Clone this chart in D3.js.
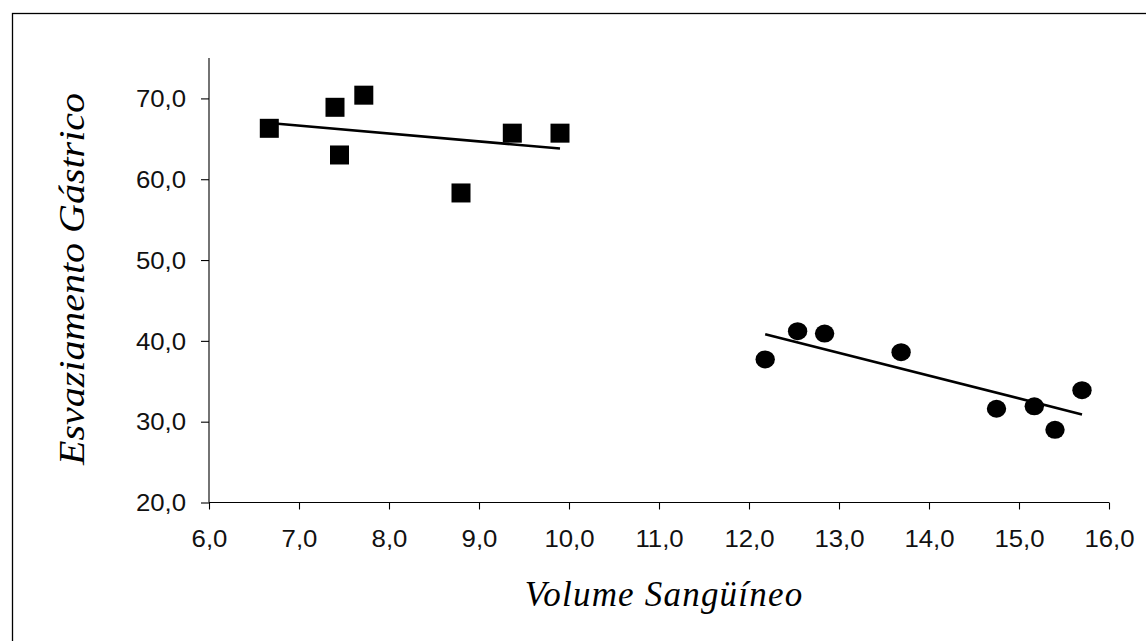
<!DOCTYPE html>
<html>
<head>
<meta charset="utf-8">
<script src="https://cdn.jsdelivr.net/npm/d3@7"></script>
<style>
  html, body { margin: 0; padding: 0; background: #fff; }
  svg { display: block; }
</style>
</head>
<body>
<svg id="chart" width="1146" height="641"></svg>
<script>
// ---- data ----
const squareX = [6.67, 7.40, 7.72, 7.45, 8.80, 9.37, 9.90];
const squareY = [66.3, 68.9, 70.4, 63.0, 58.3, 65.7, 65.7];
const circleX = [12.18, 12.54, 12.84, 13.69, 14.75, 15.17, 15.40, 15.70];
const circleY = [37.7, 41.2, 40.9, 38.6, 31.6, 31.9, 29.0, 33.9];
const xTicks = [6, 7, 8, 9, 10, 11, 12, 13, 14, 15, 16];
const yTicks = [20, 30, 40, 50, 60, 70];
const xTitle = "Volume Sangüíneo";
const yTitle = "Esvaziamento Gástrico";

// ---- layout ----
const svg = d3.select("#chart");
const pL = 209, pR = 1109, pT = 58, pB = 502.5;
const x = d3.scaleLinear().domain([6, 16]).range([pL, pR]);
const y = d3.scaleLinear().domain([20, 75]).range([pB, pT]);
const fmt = v => d3.format(".1f")(v).replace(".", ",");

// outer frame
svg.append("rect").attr("x", 12.5).attr("y", 13.5).attr("width", 1200).attr("height", 700)
  .attr("fill", "none").attr("stroke", "#000").attr("stroke-width", 1.3);

// axes
const xAxis = svg.append("g").attr("transform", `translate(0,${pB})`)
  .call(d3.axisBottom(x).tickValues(xTicks).tickSize(7).tickFormat(fmt));
const yAxis = svg.append("g").attr("transform", `translate(${pL},0)`)
  .call(d3.axisLeft(y).tickValues(yTicks).tickSize(8).tickFormat(fmt));
[xAxis, yAxis].forEach(g => {
  g.select(".domain").attr("stroke", "#000").attr("stroke-width", 1.1);
  g.selectAll(".tick line").attr("stroke", "#000").attr("stroke-width", 1.1);
  g.selectAll(".tick text").attr("fill", "#111")
    .style("font-family", "'Liberation Sans', Arial, sans-serif").style("font-size", "23px");
});
yAxis.select(".domain").attr("d", `M0,${pT}V${pB}`);
xAxis.select(".domain").attr("d", `M${pL},0H${pR}`);
xAxis.selectAll(".tick text").attr("dy", null).attr("y", 44);
yAxis.selectAll(".tick text").attr("x", -23).attr("dy", "0.36em");
[xAxis, yAxis].forEach(g => g.selectAll(".tick text").each(function() {
  const w = this.getComputedTextLength();
  d3.select(this).attr("textLength", w * 1.12).attr("lengthAdjust", "spacingAndGlyphs");
}));

// trend lines (least squares from the data)
function fit(xs, ys) {
  const mx = d3.mean(xs), my = d3.mean(ys);
  const b = d3.sum(xs, (v, i) => (v - mx) * (ys[i] - my)) / d3.sum(xs, v => (v - mx) ** 2);
  const a = my - b * mx;
  const x0 = d3.min(xs), x1 = d3.max(xs);
  return [[x0, a + b * x0], [x1, a + b * x1]];
}
const line = d3.line().x(d => x(d[0])).y(d => y(d[1]));
[[squareX, squareY], [circleX, circleY]].forEach(([xs, ys]) => {
  svg.append("path").attr("d", line(fit(xs, ys)))
    .attr("fill", "none").attr("stroke", "#000").attr("stroke-width", 2.6);
});

// markers
const sq = 19;
svg.append("g").selectAll("rect").data(squareX.map((v, i) => [v, squareY[i]])).join("rect")
  .attr("x", d => x(d[0]) - sq / 2).attr("y", d => y(d[1]) - sq / 2)
  .attr("width", sq).attr("height", sq).attr("fill", "#000");
svg.append("g").selectAll("ellipse").data(circleX.map((v, i) => [v, circleY[i]])).join("ellipse")
  .attr("cx", d => x(d[0])).attr("cy", d => y(d[1]))
  .attr("rx", 9.7).attr("ry", 9).attr("fill", "#000");

// titles
svg.append("text").attr("x", 664).attr("y", 606).attr("text-anchor", "middle")
  .style("font-family", "'Liberation Serif', 'Times New Roman', serif")
  .style("font-style", "italic").style("font-size", "35px").style("letter-spacing", "1.2px")
  .attr("fill", "#000").text(xTitle);
svg.append("text").attr("transform", "translate(84,279) rotate(-90)").attr("text-anchor", "middle")
  .style("font-family", "'Liberation Serif', 'Times New Roman', serif")
  .style("font-style", "italic").style("font-size", "36px")
  .attr("textLength", 372).attr("lengthAdjust", "spacingAndGlyphs")
  .attr("fill", "#000").text(yTitle);
</script>
</body>
</html>
